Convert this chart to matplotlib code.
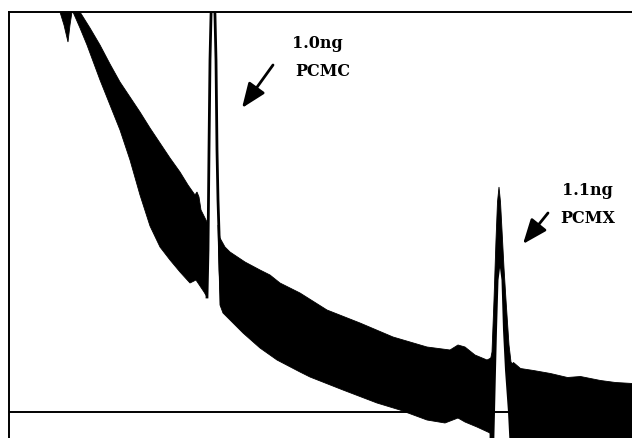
import matplotlib
matplotlib.use("Agg")
import matplotlib.pyplot as plt

# detector trace: x in scan number, y in signal counts (baseline = 0)
# early solvent tail, a narrow spike dropping in from the top
spike_x = [51, 55, 59, 61, 63]
spike_lo = [400, 387, 370, 387, 400]

# noise band before the PCMC peak (upper edge, then lower edge)
band1_up_x = [64, 71, 81, 91, 101, 111, 121, 131, 141, 151, 161, 171, 179, 186, 188, 190, 192, 195, 198]
band1_up_y = [412, 400, 384, 367, 348, 330, 315, 300, 284, 269, 254, 240, 227, 217, 220, 215, 202, 196, 190]
band1_lo_x = [64, 71, 78, 91, 101, 111, 121, 131, 141, 151, 161, 171, 181, 187, 191, 195, 198]
band1_lo_y = [400, 384, 367, 332, 307, 282, 252, 217, 186, 165, 152, 140, 129, 132, 126, 120, 115]

# PCMC peak trace (runs off the top of the chart)
pcmc_x = [198, 199, 200, 201, 202, 203, 205, 206, 207, 208, 209, 210, 211, 213]
pcmc_y = [115, 162, 262, 352, 396, 425, 425, 396, 352, 262, 212, 180, 142, 107]

# noise band between the two peaks
band2_up_x = [209, 211, 216, 221, 236, 251, 261, 271, 291, 318, 351, 384, 418, 441, 449, 456, 466, 478, 482, 484]
band2_up_y = [187, 174, 165, 160, 150, 142, 137, 129, 119, 102, 89, 75, 65, 62, 67, 65, 57, 52, 54, -28]
band2_lo_x = [481, 468, 456, 449, 436, 418, 391, 368, 334, 301, 291, 268, 251, 234, 224, 214, 211]
band2_lo_y = [-21, -15, -10, -6, -11, -8, 2, 9, 22, 35, 40, 52, 64, 79, 89, 99, 107]

# PCMX peak: filled outline and the open core under it
pcmx_x = [481, 483, 485, 487, 488.5, 490, 491.5, 493, 495, 497, 500, 502, 504, 504, 481]
pcmx_y = [50, 60, 112, 172, 210, 225, 210, 182, 144, 112, 67, 50, 47, -40, -40]
core_x = [485, 486, 487, 488, 489.5, 491, 492.5, 494, 496, 499, 501]
core_y = [-40, 0, 42, 82, 132, 144, 132, 82, 42, 0, -40]

# noise band after PCMX
band3_x = [501, 504, 511, 524, 541, 558, 571, 591, 606, 623]
band3_up = [47, 50, 44, 42, 39, 35, 36, 32, 30, 29]
band3_lo = [-40] * len(band3_x)

labels = [("1.0ng", 283, 364), ("PCMC", 286, 336), ("1.1ng", 553, 217), ("PCMX", 551, 189)]
arrows = [((264, 347), (233, 304)), ((539, 199), (514, 168))]

fig = plt.figure(figsize=(6.32, 4.38), dpi=100)
ax = fig.add_axes([9 / 632, 0, 1 - 9 / 632, 426 / 438])
ax.set_xlim(0, 623)
ax.set_ylim(-26, 400)

k = dict(color="black", lw=0.6)
ax.fill(spike_x + [63, 51], spike_lo + [420, 420], **k)
ax.fill(band1_up_x + band1_lo_x[::-1], band1_up_y + band1_lo_y[::-1], **k)
ax.plot(pcmc_x, pcmc_y, color="black", lw=2, solid_joinstyle="round")
ax.fill(band2_up_x + band2_lo_x, band2_up_y + band2_lo_y, **k)
ax.fill(pcmx_x, pcmx_y, **k)
ax.fill(core_x, core_y, color="white", lw=0)
ax.fill_between(band3_x, band3_lo, band3_up, color="black", lw=0.6)

# baseline
ax.axhline(0, color="black", lw=1.4, zorder=5)

for txt, x, y in labels:
    ax.text(x, y, txt, fontsize=11.5, family="DejaVu Serif", weight="bold", va="baseline", ha="left")
for tail, tip in arrows:
    ax.annotate("", xy=tip, xytext=tail,
                arrowprops=dict(arrowstyle="-|>,head_length=0.75,head_width=0.3",
                                mutation_scale=20, lw=2, color="black", shrinkA=0, shrinkB=0))

for s in ["right", "bottom"]:
    ax.spines[s].set_visible(False)
ax.spines["left"].set_linewidth(1.4)
ax.spines["top"].set_linewidth(1.4)
ax.set_xticks([])
ax.set_yticks([])

fig.savefig("out.png", dpi=100)
